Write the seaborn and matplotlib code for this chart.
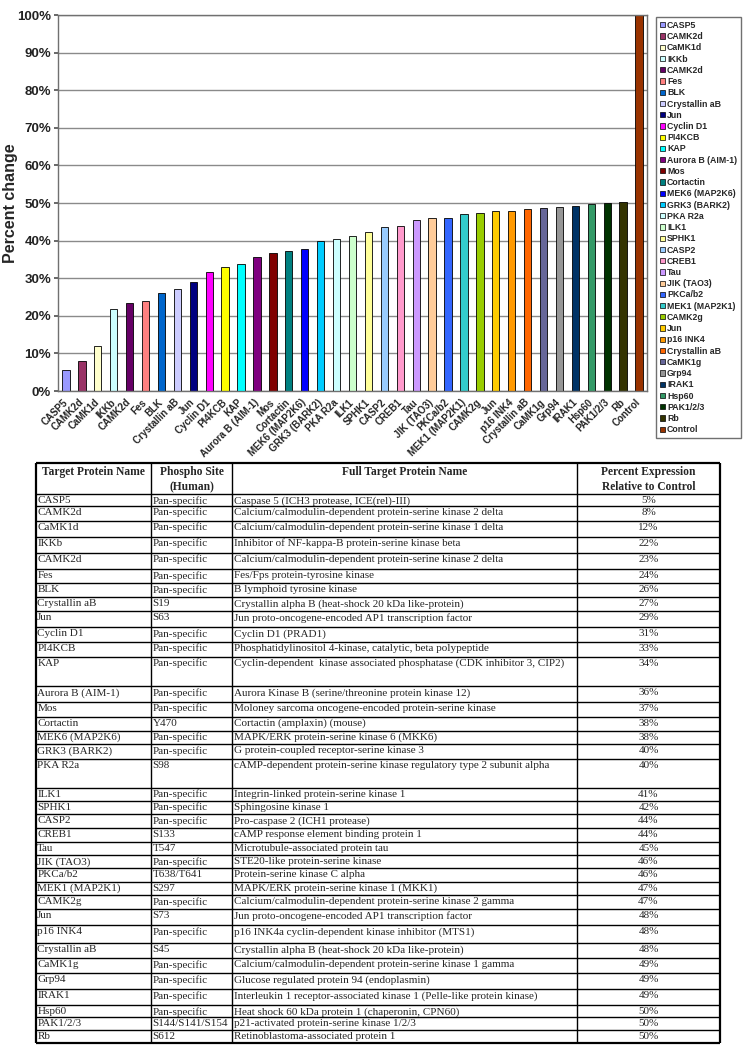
import numpy as np
import pandas as pd
import matplotlib
matplotlib.use('Agg')
import matplotlib.pyplot as plt
from matplotlib.patches import Patch
import seaborn as sns

# Bar chart data
targets = ['CASP5', 'CAMK2d', 'CaMK1d', 'IKKb', 'CAMK2d', 'Fes', 'BLK', 'Crystallin aB',
           'Jun', 'Cyclin D1', 'PI4KCB', 'KAP', 'Aurora B (AIM-1)', 'Mos', 'Cortactin',
           'MEK6 (MAP2K6)', 'GRK3 (BARK2)', 'PKA R2a', 'ILK1', 'SPHK1', 'CASP2', 'CREB1',
           'Tau', 'JIK (TAO3)', 'PKCa/b2', 'MEK1 (MAP2K1)', 'CAMK2g', 'Jun', 'p16 INK4',
           'Crystallin aB', 'CaMK1g', 'Grp94', 'IRAK1', 'Hsp60', 'PAK1/2/3', 'Rb']
bar_labels = targets + ['Control']
bar_values = [5.6, 8.0, 12.0, 21.8, 23.3, 23.9, 26.0, 27.1, 29.1, 31.6, 33.1, 33.8,
              35.7, 36.7, 37.3, 37.8, 39.9, 40.5, 41.1, 42.3, 43.7, 44.0, 45.5, 45.9,
              45.9, 47.2, 47.3, 47.9, 47.9, 48.4, 48.6, 49.0, 49.1, 49.7, 49.9, 50.3, 100.0]
bar_colors = ['#9999FF', '#993366', '#FFFFCC', '#CCFFFF', '#660066', '#FF8080', '#0066CC',
              '#CCCCFF', '#000080', '#FF00FF', '#FFFF00', '#00FFFF', '#800080', '#800000',
              '#008080', '#0000FF', '#00CCFF', '#CCFFFF', '#CCFFCC', '#FFFF99', '#99CCFF',
              '#FF99CC', '#CC99FF', '#FFCC99', '#3366FF', '#33CCCC', '#99CC00', '#FFCC00',
              '#FF9900', '#FF6600', '#666699', '#969696', '#003366', '#339966', '#003300',
              '#333300', '#993300']

# Table data
phospho_sites = ['Pan-specific'] * 7 + ['S19', 'S63', 'Pan-specific', 'Pan-specific',
                 'Pan-specific', 'Pan-specific', 'Pan-specific', 'Y470', 'Pan-specific',
                 'Pan-specific', 'S98', 'Pan-specific', 'Pan-specific', 'Pan-specific',
                 'S133', 'T547', 'Pan-specific', 'T638/T641', 'S297', 'Pan-specific', 'S73',
                 'Pan-specific', 'S45', 'Pan-specific', 'Pan-specific', 'Pan-specific',
                 'Pan-specific', 'S144/S141/S154', 'S612']
full_names = [
    'Caspase 5 (ICH3 protease, ICE(rel)-III)',
    'Calcium/calmodulin-dependent protein-serine kinase 2 delta',
    'Calcium/calmodulin-dependent protein-serine kinase 1 delta',
    'Inhibitor of NF-kappa-B protein-serine kinase beta',
    'Calcium/calmodulin-dependent protein-serine kinase 2 delta',
    'Fes/Fps protein-tyrosine kinase',
    'B lymphoid tyrosine kinase',
    'Crystallin alpha B (heat-shock 20 kDa like-protein)',
    'Jun proto-oncogene-encoded AP1 transcription factor',
    'Cyclin D1 (PRAD1)',
    'Phosphatidylinositol 4-kinase, catalytic, beta polypeptide',
    'Cyclin-dependent  kinase associated phosphatase (CDK inhibitor 3, CIP2)',
    'Aurora Kinase B (serine/threonine protein kinase 12)',
    'Moloney sarcoma oncogene-encoded protein-serine kinase',
    'Cortactin (amplaxin) (mouse)',
    'MAPK/ERK protein-serine kinase 6 (MKK6)',
    'G protein-coupled receptor-serine kinase 3',
    'cAMP-dependent protein-serine kinase regulatory type 2 subunit alpha',
    'Integrin-linked protein-serine kinase 1',
    'Sphingosine kinase 1',
    'Pro-caspase 2 (ICH1 protease)',
    'cAMP response element binding protein 1',
    'Microtubule-associated protein tau',
    'STE20-like protein-serine kinase',
    'Protein-serine kinase C alpha',
    'MAPK/ERK protein-serine kinase 1 (MKK1)',
    'Calcium/calmodulin-dependent protein-serine kinase 2 gamma',
    'Jun proto-oncogene-encoded AP1 transcription factor',
    'p16 INK4a cyclin-dependent kinase inhibitor (MTS1)',
    'Crystallin alpha B (heat-shock 20 kDa like-protein)',
    'Calcium/calmodulin-dependent protein-serine kinase 1 gamma',
    'Glucose regulated protein 94 (endoplasmin)',
    'Interleukin 1 receptor-associated kinase 1 (Pelle-like protein kinase)',
    'Heat shock 60 kDa protein 1 (chaperonin, CPN60)',
    'p21-activated protein-serine kinase 1/2/3',
    'Retinoblastoma-associated protein 1',
]
pct_expression = [5, 8, 12, 22, 23, 24, 26, 27, 29, 31, 33, 34, 36, 37, 38, 38, 40, 40,
                  41, 42, 44, 44, 45, 46, 46, 47, 47, 48, 48, 48, 49, 49, 49, 50, 50, 50]
headers = ['Target Protein Name', 'Phospho Site\n(Human)', 'Full Target Protein Name',
           'Percent Expression\nRelative to Control']

# table layout in pixels (row lines, column lines)
row_lines = [463.3, 494.3, 505.7, 520.7, 536.7, 552.7, 569.3, 583.3, 597.3, 611, 627.3,
             641.7, 656.7, 686, 701.7, 716.7, 730.7, 744.3, 759.3, 787.7, 800.7, 814.3,
             828.3, 841.7, 855, 868.3, 881.7, 895, 909.3, 925, 943.3, 958.3, 973.3, 989.3,
             1005, 1017.3, 1030, 1043.3]
col_lines = [35.7, 151, 232, 577, 720]

W, H = 745, 1050
sns.set_theme(style='white')
plt.rcParams['font.family'] = ['Liberation Sans', 'DejaVu Sans']

fig = plt.figure(figsize=(W / 100, H / 100), dpi=100)

# ---- bar chart ----
ax = fig.add_axes([58 / W, 1 - 391 / H, 589 / W, 376 / H])
df = pd.DataFrame({'slot': [str(i) for i in range(len(bar_labels))],
                   'value': bar_values})
sns.barplot(data=df, x='slot', y='value', hue='slot', palette=bar_colors, legend=False,
            width=0.46, edgecolor='black', linewidth=0.6, saturation=1, ax=ax)
ax.set_xlim(-0.5, len(bar_labels) - 0.5)
ax.set_ylim(0, 100)
ax.set_yticks(np.arange(0, 101, 10))
ax.set_yticklabels([f'{v}%' for v in range(0, 101, 10)], fontsize=9.5, fontweight='bold',
                   color='#222222')
ax.yaxis.grid(True, color='#8a8a8a', linewidth=1)
ax.set_axisbelow(True)
ax.set_xlabel('')
ax.set_ylabel('Percent change', fontsize=11.5, fontweight='bold')
ax.yaxis.set_label_coords(-40 / 589, 0.5)
ax.set_xticks(range(len(bar_labels)))
ax.set_xticklabels(bar_labels, rotation=45, ha='right', va='center',
                   rotation_mode='anchor', fontsize=7, fontweight='bold')
ax.set_xticks(np.arange(-0.5, len(bar_labels)), minor=True)
ax.tick_params(axis='x', which='major', length=0, pad=7)
ax.tick_params(axis='x', which='minor', length=3, color='#555555', direction='out')
ax.tick_params(axis='y', length=3, color='#555555', direction='out', left=True, pad=2)
for s in ax.spines.values():
    s.set_color('#707070')
    s.set_linewidth(1)

handles = [Patch(facecolor=c, edgecolor='black', linewidth=0.5) for c in bar_colors]
leg = fig.legend(handles, bar_labels, loc='upper left',
                 bbox_to_anchor=(656 / W, 1 - 17 / H), borderaxespad=0,
                 prop={'weight': 'bold', 'size': 6.3}, handlelength=0.55,
                 handleheight=0.55, handletextpad=0.25, labelspacing=0.255,
                 borderpad=0.45, fancybox=False, edgecolor='#707070', framealpha=1)
leg.get_frame().set_linewidth(1)

# ---- table ----
at = fig.add_axes([0, 0, 1, 1])
at.set_xlim(0, W)
at.set_ylim(H, 0)
at.axis('off')

serif = ['Liberation Serif', 'DejaVu Serif']
top, bottom = row_lines[0], row_lines[-1]
for i, y in enumerate(row_lines):
    lw = 1.6 if i in (0, len(row_lines) - 1) else 1.0
    at.hlines(y, col_lines[0], col_lines[-1], color='black', linewidth=lw)
for j, x in enumerate(col_lines):
    lw = 1.6 if j in (0, len(col_lines) - 1) else 1.0
    at.vlines(x, top, bottom, color='black', linewidth=lw)

for j, h in enumerate(headers):
    xc = (col_lines[j] + col_lines[j + 1]) / 2
    at.text(xc, top + 3, h, ha='center', va='top', fontsize=8.3, fontweight='bold',
            family=serif, linespacing=1.35)

for i in range(len(targets)):
    y = row_lines[i + 1] + 2
    at.text(col_lines[0] + 1.5, y, targets[i], ha='left', va='top', fontsize=8, family=serif)
    at.text(col_lines[1] + 1.5, y, phospho_sites[i], ha='left', va='top', fontsize=8,
            family=serif)
    at.text(col_lines[2] + 2, y, full_names[i], ha='left', va='top', fontsize=8,
            family=serif)
    at.text((col_lines[3] + col_lines[4]) / 2, y, f'{pct_expression[i]}%', ha='center',
            va='top', fontsize=8, family=serif)

fig.savefig('out.png', dpi=100)
